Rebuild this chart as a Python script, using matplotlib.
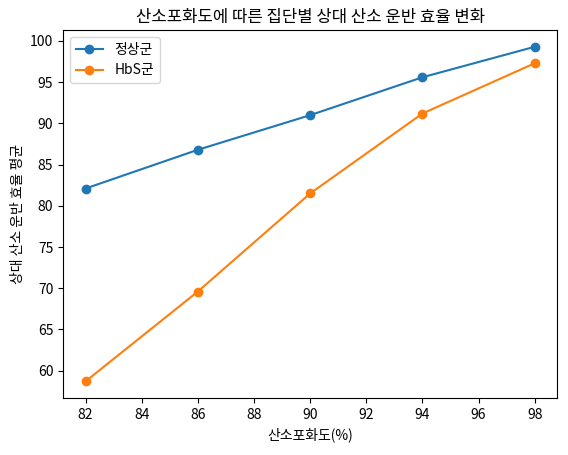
import matplotlib
matplotlib.use("Agg")
import matplotlib.pyplot as plt

plt.rcParams['font.family'] = ['Noto Sans CJK KR', 'DejaVu Sans']
plt.rcParams['axes.unicode_minus'] = False

saturation = [82, 86, 90, 94, 98]
normal = [82.1, 86.8, 91.0, 95.6, 99.3]
hbs = [58.7, 69.6, 81.5, 91.2, 97.3]

fig, ax = plt.subplots(figsize=(5.68, 4.55), dpi=100)
ax.plot(saturation, normal, marker='o', label='정상군')
ax.plot(saturation, hbs, marker='o', label='HbS군')
ax.set_title('산소포화도에 따른 집단별 상대 산소 운반 효율 변화')
ax.set_xlabel('산소포화도(%)')
ax.set_ylabel('상대 산소 운반 효율 평균')
ax.set_xticks(range(82, 99, 2))
ax.legend(loc='upper left')
fig.subplots_adjust(left=0.111, right=0.981, top=0.934, bottom=0.125)
fig.savefig('out.png', dpi=100)
